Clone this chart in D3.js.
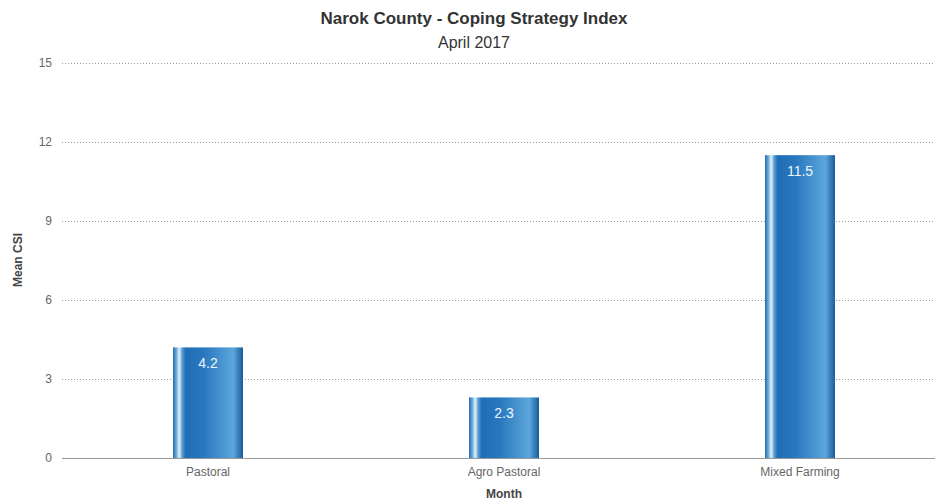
<!DOCTYPE html>
<html>
<head>
<meta charset="utf-8">
<script src="https://cdn.jsdelivr.net/npm/d3@7"></script>
<style>
  body { margin: 0; background: #fff; }
  svg { font-family: "Liberation Sans", Arial, Helvetica, sans-serif; }
</style>
</head>
<body>
<div id="chart"></div>
<script>
  var categories = ['Pastoral', 'Agro Pastoral', 'Mixed Farming'];
  var values = [4.2, 2.3, 11.5];
  var yTicks = [0, 3, 6, 9, 12, 15];

  var width = 938, height = 504;
  var margin = {top: 63, right: 0, bottom: 46, left: 62};
  var gridRight = width - 3;

  var svg = d3.select('#chart').append('svg')
    .attr('width', width)
    .attr('height', height);

  var defs = svg.append('defs');
  var grad = defs.append('linearGradient')
    .attr('id', 'barGrad')
    .attr('x1', '0%').attr('x2', '100%')
    .attr('y1', '0%').attr('y2', '0%');
  [['0%', '#2467ad'], ['5%', '#6fb0e0'], ['9%', '#e4f1fb'], ['13%', '#5ba0d6'],
   ['18%', '#1f6db5'], ['45%', '#2a79c0'], ['72%', '#4c97d2'], ['86%', '#5da6dc'],
   ['100%', '#1a5c9e']].forEach(function(s) {
    grad.append('stop').attr('offset', s[0]).attr('stop-color', s[1]);
  });

  // band scale runs a bit past the plot edge so the bars sit where the original puts them
  var x = d3.scaleBand()
    .domain(categories)
    .range([60, 948])
    .paddingInner(0).paddingOuter(0);

  var y = d3.scaleLinear()
    .domain([0, 15])
    .range([height - margin.bottom, margin.top]);

  // grid
  svg.append('g')
    .selectAll('line')
    .data(yTicks.filter(function(d) { return d > 0; }))
    .enter().append('line')
    .attr('x1', margin.left).attr('x2', gridRight)
    .attr('y1', function(d) { return y(d) + 0.5; })
    .attr('y2', function(d) { return y(d) + 0.5; })
    .attr('stroke', '#9a9a9a')
    .attr('stroke-width', 1)
    .attr('stroke-dasharray', '1,2');

  // baseline
  svg.append('line')
    .attr('x1', margin.left).attr('x2', gridRight)
    .attr('y1', y(0) + 0.5).attr('y2', y(0) + 0.5)
    .attr('stroke', '#999');

  // y tick labels
  svg.append('g')
    .selectAll('text')
    .data(yTicks)
    .enter().append('text')
    .attr('x', margin.left - 10)
    .attr('y', function(d) { return y(d); })
    .attr('dy', '0.35em')
    .attr('text-anchor', 'end')
    .attr('fill', '#666')
    .attr('font-size', 12)
    .text(function(d) { return d; });

  // bars
  var barW = 70;
  var bars = svg.append('g')
    .selectAll('g')
    .data(values)
    .enter().append('g');

  bars.append('rect')
    .attr('x', function(d, i) { return x(categories[i]) + x.bandwidth() / 2 - barW / 2; })
    .attr('y', function(d) { return y(d); })
    .attr('width', barW)
    .attr('height', function(d) { return y(0) - y(d); })
    .attr('fill', 'url(#barGrad)');

  bars.append('text')
    .attr('x', function(d, i) { return x(categories[i]) + x.bandwidth() / 2; })
    .attr('y', function(d) { return y(d) + 21; })
    .attr('text-anchor', 'middle')
    .attr('fill', '#eef6fc')
    .attr('font-size', 14)
    .text(function(d) { return d; });

  // x labels
  svg.append('g')
    .selectAll('text')
    .data(categories)
    .enter().append('text')
    .attr('x', function(d) { return x(d) + x.bandwidth() / 2; })
    .attr('y', 476)
    .attr('text-anchor', 'middle')
    .attr('fill', '#666')
    .attr('font-size', 12)
    .text(function(d) { return d; });

  // axis titles
  svg.append('text')
    .attr('x', 504).attr('y', 498)
    .attr('text-anchor', 'middle')
    .attr('font-weight', 'bold')
    .attr('font-size', 12)
    .attr('fill', '#444')
    .text('Month');

  svg.append('text')
    .attr('transform', 'translate(22,' + 260 + ') rotate(-90)')
    .attr('text-anchor', 'middle')
    .attr('font-weight', 'bold')
    .attr('font-size', 12)
    .attr('fill', '#444')
    .text('Mean CSI');

  // titles
  svg.append('text')
    .attr('x', 474).attr('y', 24)
    .attr('text-anchor', 'middle')
    .attr('font-weight', 'bold')
    .attr('font-size', 17)
    .attr('fill', '#333')
    .text('Narok County - Coping Strategy Index');

  svg.append('text')
    .attr('x', 474).attr('y', 48)
    .attr('text-anchor', 'middle')
    .attr('font-size', 16)
    .attr('fill', '#333')
    .text('April 2017');
</script>
</body>
</html>
